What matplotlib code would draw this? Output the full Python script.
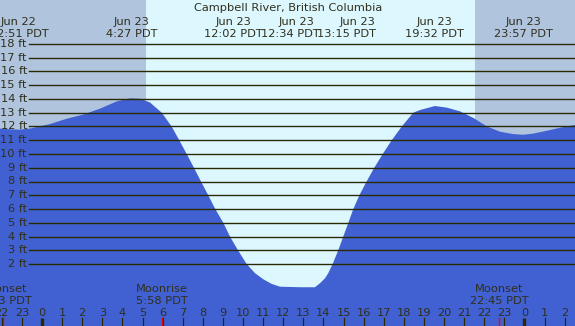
import matplotlib
matplotlib.use('Agg')
import matplotlib.pyplot as plt

# tide curve (hours after midnight Jun 23, feet)
tide_hours = [-2.09, -1.59, -1.14, -0.60, 0.40, 1.24, 2.04, 2.89, 3.73, 4.38,
              4.88, 5.37, 5.96, 6.45, 6.83, 7.20, 7.56, 7.91, 8.27, 8.62,
              9.02, 9.35, 9.75, 10.18, 10.60, 11.01, 11.43, 11.84, 12.84, 13.58,
              13.83, 14.08, 14.24, 14.46, 14.74, 14.99, 15.24, 15.49, 15.79, 16.15,
              16.53, 16.95, 17.40, 17.90, 18.47, 18.81, 19.55, 20.15, 20.80, 21.44,
              22.14, 22.79, 23.43, 23.93, 24.43, 25.12, 25.77, 26.52]
tide_feet = [11.85, 11.80, 11.77, 11.85, 12.18, 12.57, 12.86, 13.30, 13.83, 14.05,
             14.02, 13.75, 13.00, 12.00, 11.00, 10.00, 9.00, 8.00, 7.00, 6.00,
             5.00, 4.00, 3.00, 2.00, 1.33, 0.89, 0.55, 0.35, 0.31, 0.31,
             0.60, 0.96, 1.33, 2.00, 3.00, 4.00, 5.00, 6.00, 7.00, 8.00,
             9.00, 10.00, 11.00, 12.00, 13.00, 13.20, 13.49, 13.37, 13.10, 12.64,
             12.00, 11.62, 11.45, 11.40, 11.48, 11.69, 11.91, 12.11]

sunrise = 5.17
sunset = 21.54

# top labels: date, time, x of date text, x of time text (hours)
top_dates = ['Jun 22', 'Jun 23', 'Jun 23', 'Jun 23', 'Jun 23', 'Jun 23', 'Jun 23']
top_times = ['22:51 PDT', '4:27 PDT', '12:02 PDT', '12:34 PDT', '13:15 PDT', '19:32 PDT', '23:57 PDT']
top_date_x = [-1.15, 4.45, 9.55, 12.64, 15.72, 19.53, 23.95]
top_time_x = [-1.15, 4.45, 9.50, 12.34, 15.17, 19.53, 23.95]

moon_names = ['Moonset', 'Moonrise', 'Moonset']
moon_times = ['22:03 PDT', '5:58 PDT', '22:45 PDT']
moon_hours = [-1.95, 5.97, 22.75]

ft_levels = list(range(2, 19))

# pixel helpers (chart is laid out in pixels of a 575x326 image)
X0, PX_H = 42, 20.1
def hx(px):
    return (px - X0) / PX_H
def fy(py):
    return 18 - (py - 44) / 13.75

night = '#B0C4DE'
day = '#DDF7FF'
water = '#4161D2'
ink = '#2f2f1c'
fs = 8.2

fig = plt.figure(figsize=(5.75, 3.26), dpi=100)
ax = fig.add_axes([0, 0, 1, 1])
ax.set_xlim(hx(0), hx(575))
ax.set_ylim(fy(326), fy(0))
ax.axis('off')

ax.axvspan(hx(0), hx(575), color=day, lw=0, zorder=0)
ax.axvspan(hx(0), sunrise, color=night, lw=0, zorder=0)
ax.axvspan(sunset, hx(575), color=night, lw=0, zorder=0)

ax.fill_between(tide_hours, tide_feet, fy(330), color=water, lw=0, zorder=1)

for f in ft_levels:
    ax.plot([hx(29), hx(576)], [f, f], color='#2a2a00', lw=1.0, zorder=2)
    ax.text(hx(27), f, f'{f} ft', ha='right', va='center', fontsize=fs, color=ink, zorder=3)

ax.text(hx(288), fy(11.5), 'Campbell River, British Columbia', ha='center', va='baseline',
        fontsize=fs, color=ink)
for d, t, dx, tx in zip(top_dates, top_times, top_date_x, top_time_x):
    ax.text(dx, fy(25), d, ha='center', va='baseline', fontsize=fs, color=ink)
    ax.text(tx, fy(37), t, ha='center', va='baseline', fontsize=fs, color=ink)

for n, t, h in zip(moon_names, moon_times, moon_hours):
    ax.text(h, fy(291.5), n, ha='center', va='baseline', fontsize=fs, color=ink, zorder=3)
    ax.text(h, fy(303.5), t, ha='center', va='baseline', fontsize=fs, color=ink, zorder=3)
    ax.plot([h, h], [fy(318), fy(327)], color='red', lw=1.0, zorder=3)

for h in range(-2, 27):
    ax.text(h, fy(315.5), str(h % 24), ha='center', va='baseline', fontsize=fs, color=ink, zorder=3)
    if h % 24 == 0:
        ax.plot([h, h], [fy(318), fy(327)], color='#2a2a00', lw=2.4, zorder=3, solid_capstyle='butt')
    else:
        ax.plot([h, h], [fy(318), fy(327)], color='#2a2a00', lw=0.9, zorder=3)

fig.savefig('out.png', dpi=100)
